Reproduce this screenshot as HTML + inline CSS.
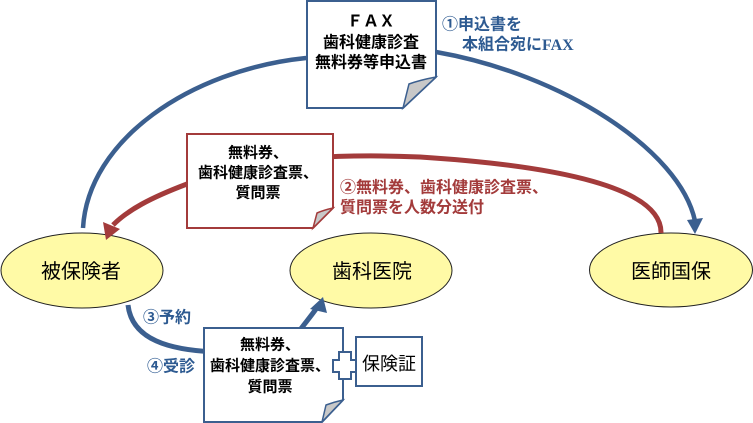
<!DOCTYPE html>
<html><head><meta charset="utf-8"><style>
html,body{margin:0;padding:0;background:#fff;}
svg{display:block;}
text{font-family:"Liberation Sans","Noto Sans CJK JP",sans-serif;}
</style></head><body>
<svg width="753" height="423" viewBox="0 0 753 423" xmlns="http://www.w3.org/2000/svg">
<!-- ellipses -->
<ellipse cx="82" cy="270.5" rx="81" ry="37.5" fill="#fffaa6" stroke="#222" stroke-width="1"/>
<ellipse cx="371" cy="270.5" rx="81" ry="37.5" fill="#fffaa6" stroke="#222" stroke-width="1"/>
<ellipse cx="671" cy="270" rx="81.5" ry="37" fill="#fffaa6" stroke="#222" stroke-width="1"/>

<!-- blue big arc -->
<path d="M83,228 C 88,140 190,70 306,58 C 350,52 400,48 436,52 C 562,74 680,150 695,221" fill="none" stroke="#3b5f8f" stroke-width="4.5"/>
<polygon points="687,220 703,218 695,234" fill="#3b5f8f"/>

<!-- red arc -->
<path d="M661,233 C 662,188 560,166 420,157 C 300,152 230,165 187,184 C 150,198 128,210 113,225" fill="none" stroke="#a33b3b" stroke-width="5"/>
<polygon points="103,222 120,229 106,240" fill="#a33b3b"/>

<!-- blue small arrow (3/4) -->
<path d="M128,305 C 132,340 170,350 215,352" fill="none" stroke="#3b5f8f" stroke-width="5"/>
<path d="M300,330 C 306,322 311,316 316,309" fill="none" stroke="#3b5f8f" stroke-width="5"/>
<polygon points="310,309 327,313 323,297" fill="#3b5f8f"/>

<!-- FAX box -->
<path d="M307,1 L436,1 L436,77 L403,108 L307,108 Z" fill="#fff" stroke="#3b5f8f" stroke-width="2"/>
<path d="M436,77 Q420,80 409,84 L403,108 Z" fill="#c8c8c8" stroke="#3b5f8f" stroke-width="1.5"/>
<g font-size="16" font-weight="bold" fill="#000" text-anchor="middle" dominant-baseline="central">
<text x="371" y="22">ＦＡＸ</text>
<text x="371" y="43">歯科健康診査</text>
<text x="371" y="63">無料券等申込書</text>
</g>

<!-- red box -->
<path d="M187,134 L333,134 L333,208 L313,228 L187,228 Z" fill="#fff" stroke="#a33b3b" stroke-width="2"/>
<path d="M333,208 Q324,210 317,213 L313,228 Z" fill="#c8c8c8" stroke="#a33b3b" stroke-width="1.5"/>
<g font-size="15" font-weight="bold" fill="#000" text-anchor="middle" dominant-baseline="central">
<text x="258" y="153">無料券、</text>
<text x="258" y="173">歯科健康診査票、</text>
<text x="258" y="193">質問票</text>
</g>

<!-- lower box -->
<path d="M204,328 L343,328 L343,400 L322,422 L204,422 Z" fill="#fff" stroke="#3b5f8f" stroke-width="2"/>
<path d="M343,400 Q334,402 326,405 L322,422 Z" fill="#c8c8c8" stroke="#3b5f8f" stroke-width="1.5"/>
<g font-size="15" font-weight="bold" fill="#000" text-anchor="middle" dominant-baseline="central">
<text x="270" y="345">無料券、</text>
<text x="270" y="366">歯科健康診査票、</text>
<text x="270" y="387">質問票</text>
</g>

<!-- cross -->
<path d="M339,352 L351,352 L351,360 L358,360 L358,372 L351,372 L351,379 L339,379 L339,372 L333,372 L333,360 L339,360 Z" fill="#fff" stroke="#3b5f8f" stroke-width="2"/>

<!-- 保険証 box -->
<rect x="356" y="337" width="66" height="49" fill="#fff" stroke="#3b5f8f" stroke-width="2"/>
<text x="389" y="364" font-size="18" fill="#000" text-anchor="middle" dominant-baseline="central">保険証</text>

<!-- ellipse labels -->
<g font-size="20" fill="#000" text-anchor="middle" dominant-baseline="central">
<text x="81" y="272">被保険者</text>
<text x="372" y="272">歯科医院</text>
<text x="671" y="272">医師国保</text>
</g>

<!-- blue labels -->
<g font-size="16" font-weight="bold" fill="#2d5a91" dominant-baseline="central">
<text x="442" y="25">①申込書を</text>
<text x="462" y="45">本組合宛に<tspan font-family="Liberation Serif, serif" font-weight="bold">FAX</tspan></text>
<text x="143" y="318">③予約</text>
<text x="147" y="367">④受診</text>
</g>

<!-- red label -->
<g font-size="16" font-weight="bold" fill="#a33b3b" dominant-baseline="central">
<text x="340" y="188">②無料券、歯科健康診査票、</text>
<text x="340" y="208">質問票を人数分送付</text>
</g>
</svg>
</body></html>
